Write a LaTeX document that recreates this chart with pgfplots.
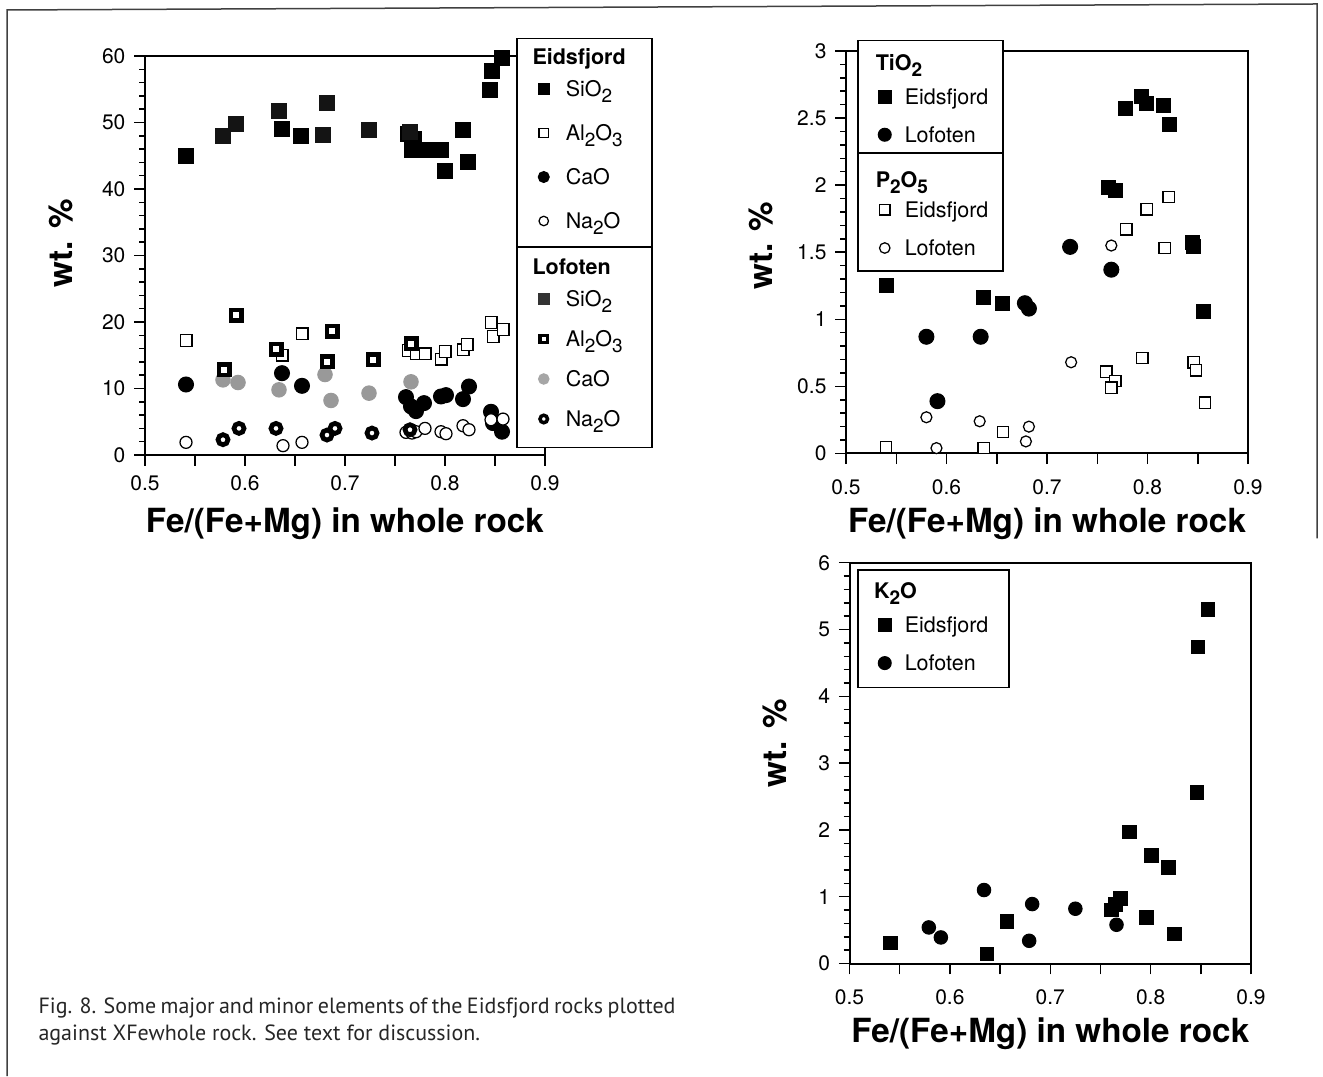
\documentclass[border=0pt]{standalone}
\usepackage{fontspec}
\setmainfont{TeX Gyre Heros}
\newfontfamily\capfont{PT Sans}
\usepackage{pgfplots}
\pgfplotsset{compat=1.18}
\setlength{\parindent}{0pt}
\newcommand\sub[1]{\raisebox{-2.2pt}{\fontsize{7.6}{8}\selectfont #1}}
\pgfplotsset{
 lgimg/.style={legend image code/.code={\path[draw=none,fill=none] (0pt,0pt) rectangle (13.6pt,3pt); \draw[##1] plot coordinates {(6.8pt,3.1pt)};}},
 common/.style={
  scale only axis,
  xmin=0.5, xmax=0.9,
  xtick={0.5,0.55,0.6,0.65,0.7,0.75,0.8,0.85,0.9},
  xticklabels={0.5,,0.6,,0.7,,0.8,,0.9},
  tick align=outside, xtick pos=bottom, ytick pos=left,
  major tick length=4.3pt, minor tick length=2.4pt,
  axis line style={line width=0.8pt},
  every tick/.style={black, line width=0.6pt},
  minor y tick num=4,
  tick label style={font=\fontsize{8.4}{10}\selectfont},
  /pgf/number format/assume math mode=true,
  label style={font=\bfseries\fontsize{13.3}{15}\selectfont},
  xlabel={Fe/(Fe+Mg) in whole rock}, ylabel={wt. \%},
  lgimg,
 },
 overlay/.style={scale only axis, hide axis, xmin=0, xmax=1, ymin=0, ymax=1, lgimg},
 lgcommon/.style={anchor=north west, draw=black, line width=0.6pt, fill=white, inner xsep=4pt, inner ysep=1pt, font=\fontsize{8.6}{10}\selectfont, text=black, cells={anchor=base west}},
}
\begin{document}
\begin{tikzpicture}[x=1pt,y=1pt]
\useasboundingbox (0,0) rectangle (529.2,430.4);
\draw[line width=0.6pt, black!75] (2.8,0) -- (2.8,426.4) -- (526.8,428.8) -- (526.8,215);
% caption
\node[anchor=base west, inner sep=0pt, text width=254.8pt, align=justify, font=\capfont\fontsize{8.8}{10.8}\selectfont, black!85] at (15.2,25.0) {Fig. 8. Some major and minor elements of the Eidsfjord rocks plotted\linebreak against XFewhole rock. See text for discussion.};

% ================= LEFT =================
\begin{axis}[common, at={(58pt,248.4pt)}, anchor=south west, width=160pt, height=159.6pt,
  ymin=0, ymax=60, ytick={0,10,...,60},
  xlabel style={at={(axis description cs:0.5,-0.1955)}, anchor=base},
  ylabel style={at={(axis description cs:-0.1825,0.531)}, anchor=base},
  xticklabel style={yshift=-0.6pt},
  legend style={lgcommon, at={(0.9275,1.0451)}, row sep=5.4pt, column sep=2pt,
    nodes={inner sep=0pt, text height=6pt, text depth=6.2pt, text width=30.4pt}}]
\addlegendimage{empty legend}
\addlegendentry[text height=9.4pt, text depth=1.4pt]{\hspace*{-13.3pt}\textbf{Eidsfjord}}
\addlegendimage{only marks, mark=square*, mark size=2pt, mark options={fill=black, draw=black}}
\addlegendentry{SiO\sub{2}}
\addlegendimage{only marks, mark=square*, mark size=1.9pt, mark options={fill=white, draw=black, line width=0.5pt}}
\addlegendentry{Al\sub{2}O\sub{3}}
\addlegendimage{only marks, mark=*, mark size=2.1pt, mark options={fill=black, draw=black}}
\addlegendentry{CaO}
\addlegendimage{only marks, mark=*, mark size=1.9pt, mark options={fill=white, draw=black, line width=0.5pt}}
\addlegendentry{Na\sub{2}O}
% Eidsfjord SiO2
\addplot[forget plot, only marks, mark=square*, mark size=3pt, black] coordinates {
(0.541,44.9)(0.637,49.0)(0.656,48.0)(0.763,48.2)(0.769,47.5)(0.767,45.8)(0.780,45.8)(0.796,45.8)(0.800,42.7)(0.818,48.9)(0.823,44.1)(0.845,54.9)(0.847,57.8)(0.857,59.7)};
% Lofoten SiO2
\addplot[forget plot, only marks, mark=square*, mark size=3pt, black!92] coordinates {
(0.578,48.0)(0.591,49.7)(0.634,51.7)(0.678,48.1)(0.682,52.9)(0.724,48.8)(0.765,48.6)};
% Eidsfjord Al2O3
\addplot[forget plot, only marks, mark=square*, mark size=2.35pt, mark options={fill=white, draw=black, line width=0.5pt}] coordinates {
(0.541,17.2)(0.637,15.0)(0.657,18.2)(0.763,15.7)(0.771,15.2)(0.780,15.2)(0.796,14.4)(0.800,15.6)(0.818,15.8)(0.822,16.6)(0.846,19.9)(0.848,17.8)(0.858,18.9)};
% Eidsfjord CaO
\addplot[forget plot, only marks, mark=*, mark size=3pt, black] coordinates {
(0.541,10.6)(0.637,12.3)(0.657,10.4)(0.761,8.7)(0.766,7.3)(0.771,6.6)(0.779,7.8)(0.796,8.8)(0.801,9.0)(0.818,8.4)(0.824,10.3)(0.846,6.5)(0.848,4.8)(0.857,3.5)};
% Eidsfjord Na2O
\addplot[forget plot, only marks, mark=*, mark size=2.4pt, mark options={fill=white, draw=black, line width=0.5pt}] coordinates {
(0.541,1.9)(0.638,1.4)(0.657,1.9)(0.761,3.4)(0.767,3.3)(0.771,3.5)(0.780,4.0)(0.796,3.5)(0.801,3.2)(0.818,4.4)(0.824,3.8)(0.846,5.3)(0.858,5.4)};
% Lofoten CaO
\addplot[forget plot, only marks, mark=*, mark size=2.9pt, mark options={fill=black!40, draw=black!40}] coordinates {
(0.578,11.3)(0.593,10.9)(0.634,9.8)(0.680,12.1)(0.686,8.2)(0.724,9.3)(0.766,11.0)};
% Lofoten Al2O3
\addplot[forget plot, only marks, mark=square*, mark size=2.1pt, mark options={fill=white, draw=black, line width=1.8pt}] coordinates {
(0.579,12.8)(0.591,21.0)(0.631,15.9)(0.682,14.0)(0.687,18.6)(0.728,14.3)(0.766,16.7)};
% Lofoten Na2O
\addplot[forget plot, only marks, mark=*, mark size=2pt, mark options={fill=white, draw=black, line width=1.9pt}] coordinates {
(0.578,2.3)(0.594,4.0)(0.631,4.0)(0.682,3.0)(0.690,4.0)(0.727,3.3)(0.765,3.8)};
\end{axis}
\begin{axis}[overlay, at={(58pt,248.4pt)}, anchor=south west, width=160pt, height=159.6pt,
  legend style={lgcommon, at={(0.9275,0.5213)}, row sep=2.6pt, column sep=2pt,
    nodes={inner sep=0pt, text height=6pt, text depth=7.4pt, text width=30.4pt}}]
\addlegendimage{empty legend}
\addlegendentry[text height=9.8pt, text depth=4.2pt]{\hspace*{-13.3pt}\textbf{Lofoten}}
\addlegendimage{only marks, mark=square*, mark size=2pt, mark options={fill=black!80, draw=black!80}}
\addlegendentry{SiO\sub{2}}
\addlegendimage{only marks, mark=square*, mark size=1.5pt, mark options={fill=white, draw=black, line width=1.3pt}}
\addlegendentry{Al\sub{2}O\sub{3}}
\addlegendimage{only marks, mark=*, mark size=2pt, mark options={fill=black!35, draw=black!35}}
\addlegendentry{CaO}
\addlegendimage{only marks, mark=*, mark size=1.5pt, mark options={fill=white, draw=black, line width=1.4pt}}
\addlegendentry{Na\sub{2}O}
\end{axis}

% ================= TOP RIGHT =================
\begin{axis}[common, at={(338.4pt,249.0pt)}, anchor=south west, width=160.8pt, height=161pt,
  ymin=0, ymax=3, ytick={0,0.5,...,3},
  xlabel style={at={(axis description cs:0.5,-0.1975)}, anchor=base},
  ylabel style={at={(axis description cs:-0.184,0.516)}, anchor=base},
  xticklabel style={yshift=-2.6pt},
  legend style={lgcommon, at={(0.02736,1.0273)}, row sep=6pt, column sep=1.2pt,
    nodes={inner sep=0pt, text height=6pt, text depth=3.1pt, text width=35.2pt}}]
\addlegendimage{empty legend}
\addlegendentry[text height=11pt, text depth=1.6pt]{\hspace*{-11.6pt}\textbf{TiO\sub{\bfseries 2}}}
\addlegendimage{only marks, mark=square*, mark size=2.6pt, mark options={fill=black, draw=black}}
\addlegendentry{Eidsfjord}
\addlegendimage{only marks, mark=*, mark size=2.5pt, mark options={fill=black, draw=black}}
\addlegendentry{Lofoten}
% TiO2 Eidsfjord
\addplot[forget plot, only marks, mark=square*, mark size=2.8pt, black] coordinates {
(0.540,1.25)(0.637,1.16)(0.656,1.12)(0.761,1.98)(0.768,1.96)(0.778,2.57)(0.794,2.66)(0.799,2.61)(0.816,2.59)(0.822,2.45)(0.845,1.57)(0.846,1.54)(0.856,1.06)};
% TiO2 Lofoten
\addplot[forget plot, only marks, mark=*, mark size=3pt, black] coordinates {
(0.580,0.87)(0.591,0.39)(0.634,0.87)(0.678,1.12)(0.682,1.08)(0.723,1.54)(0.764,1.37)};
% P2O5 Eidsfjord
\addplot[forget plot, only marks, mark=square*, mark size=2.25pt, mark options={fill=white, draw=black, line width=0.5pt}] coordinates {
(0.540,0.05)(0.637,0.04)(0.656,0.16)(0.759,0.61)(0.768,0.54)(0.764,0.49)(0.779,1.67)(0.795,0.71)(0.799,1.82)(0.817,1.53)(0.821,1.91)(0.846,0.68)(0.848,0.62)(0.857,0.38)};
% P2O5 Lofoten
\addplot[forget plot, only marks, mark=*, mark size=2.2pt, mark options={fill=white, draw=black, line width=0.5pt}] coordinates {
(0.580,0.27)(0.590,0.04)(0.633,0.24)(0.679,0.09)(0.682,0.20)(0.724,0.68)(0.764,1.55)};
\end{axis}
\begin{axis}[overlay, at={(338.4pt,249.0pt)}, anchor=south west, width=160.8pt, height=161pt,
  legend style={lgcommon, at={(0.02736,0.749)}, row sep=4.3pt, column sep=1.2pt,
    nodes={inner sep=0pt, text height=6pt, text depth=5pt, text width=35.2pt}}]
\addlegendimage{empty legend}
\addlegendentry[text height=12.9pt, text depth=1.7pt]{\hspace*{-11.6pt}\textbf{P\sub{\bfseries 2}O\sub{\bfseries 5}}}
\addlegendimage{only marks, mark=square*, mark size=2.1pt, mark options={fill=white, draw=black, line width=0.5pt}}
\addlegendentry{Eidsfjord}
\addlegendimage{only marks, mark=*, mark size=2.1pt, mark options={fill=white, draw=black, line width=0.5pt}}
\addlegendentry{Lofoten}
\end{axis}

% ================= BOTTOM RIGHT =================
\begin{axis}[common, at={(339.8pt,45pt)}, anchor=south west, width=160.6pt, height=160.3pt,
  ymin=0, ymax=6, ytick={0,1,...,6},
  xlabel style={at={(axis description cs:0.5,-0.198)}, anchor=base},
  ylabel style={at={(axis description cs:-0.158,0.550)}, anchor=base},
  xticklabel style={yshift=-2.6pt},
  legend style={lgcommon, at={(0.01868,0.9835)}, row sep=3.6pt, column sep=1.2pt,
    nodes={inner sep=0pt, text height=6pt, text depth=5.7pt, text width=37.6pt}}]
\addlegendimage{empty legend}
\addlegendentry[text height=10.5pt, text depth=3.9pt]{\hspace*{-12.3pt}\textbf{K\sub{\bfseries 2}O}}
\addlegendimage{only marks, mark=square*, mark size=2.6pt, mark options={fill=black, draw=black}}
\addlegendentry{Eidsfjord}
\addlegendimage{only marks, mark=*, mark size=2.5pt, mark options={fill=black, draw=black}}
\addlegendentry{Lofoten}
\addplot[forget plot, only marks, mark=square*, mark size=2.7pt, black] coordinates {
(0.541,0.31)(0.637,0.14)(0.657,0.63)(0.761,0.80)(0.765,0.88)(0.770,0.97)(0.779,1.97)(0.796,0.69)(0.801,1.62)(0.818,1.44)(0.824,0.44)(0.846,2.56)(0.847,4.74)(0.857,5.30)};
\addplot[forget plot, only marks, mark=*, mark size=2.7pt, black] coordinates {
(0.579,0.54)(0.591,0.39)(0.634,1.10)(0.679,0.34)(0.682,0.89)(0.725,0.82)(0.766,0.58)};
\end{axis}
\end{tikzpicture}
\end{document}
